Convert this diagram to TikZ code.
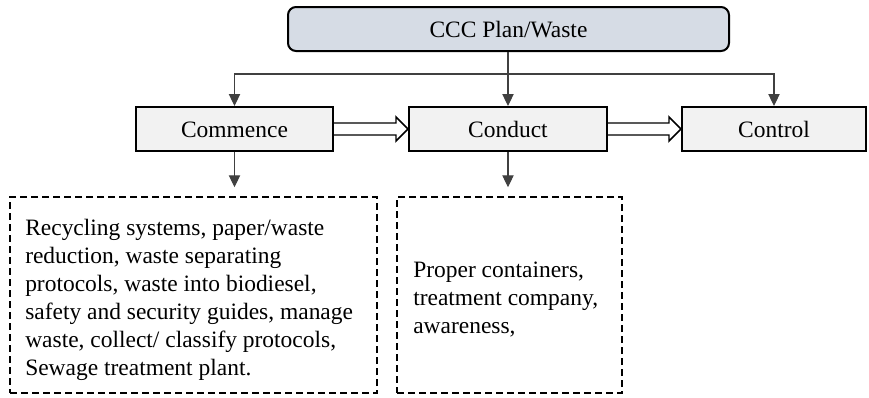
\documentclass[tikz,border=0pt]{standalone}
\usepackage{fontspec}
\setmainfont{Liberation Serif}
\usetikzlibrary{arrows.meta,calc}

\definecolor{planfill}{HTML}{D6DCE5}
\definecolor{stagefill}{HTML}{F2F2F2}
\definecolor{linkgray}{HTML}{404040}

\tikzset{
  label font/.style={font=\fontsize{17.6pt}{21pt}\selectfont},
  planbox/.style={draw=black, line width=1.5pt, fill=planfill, rounded corners=6pt,
    minimum height=33pt, inner sep=0pt, label font, text height=13pt, text depth=1pt},
  stagebox/.style={draw=black, line width=1.5pt, fill=stagefill,
    minimum height=33pt, inner sep=0pt, label font, text height=13pt, text depth=1pt},
  notebox/.style={draw=black, line width=1.1pt, dash pattern=on 5.25pt off 3pt,
    minimum height=147pt, inner sep=0pt},
  notetext/.style={label font, align=left, inner sep=0pt, anchor=west},
  link/.style={draw=linkgray, line width=0.8pt, -{Triangle[length=9pt,width=8.5pt]}},
  flow/.style={draw=black, line width=1.1pt, fill=white, line join=miter}
}

\begin{document}
\begin{tikzpicture}[x=0.75pt,y=-0.75pt]
  \useasboundingbox (0,0) rectangle (869,397);

  % plan header and the three stages
  \node[planbox, minimum width=330.75pt] (plan) at (508.5,29) {CCC Plan/Waste};
  \node[stagebox, minimum width=147.75pt] (comm) at (234.5,129) {Commence};
  \node[stagebox, minimum width=148.5pt]  (cond) at (508,129)   {Conduct};
  \node[stagebox, minimum width=138pt]    (ctrl) at (774,129)   {Control};

  % dashed note boxes
  \node[notebox, minimum width=275.25pt] (noteA) at (193.5,295) {};
  \node[notebox, minimum width=168.75pt] (noteB) at (509.5,295) {};

  \node[notetext] (textA) at (25,300) {Recycling systems, paper/waste\\
    reduction, waste separating\\
    protocols, waste into biodiesel,\\
    safety and security guides, manage\\
    waste, collect/ classify protocols,\\
    Sewage treatment plant.};
  \node[notetext] (textB) at (413,300) {Proper containers,\\
    treatment company,\\
    awareness,};

  % distribution from the plan to the stages
  \coordinate (hub) at (cond.north |- 0,74);
  \draw[link] (plan.south -| cond.north) -- (cond.north);
  \draw[link] (hub) -| (comm.north);
  \draw[link] (hub) -| (ctrl.north);

  % stages down to their notes
  \draw[link, shorten >=6.75pt] (comm.south) -- (comm.south |- noteA.north);
  \draw[link, shorten >=6.75pt] (cond.south) -- (cond.south |- noteB.north);

  % hollow block arrows between stages
  \draw[flow] ($(comm.east)+(0,-6)$) -- ($(cond.west)+(-12,-6)$)
    -- ($(cond.west)+(-12,-12)$) -- (cond.west)
    -- ($(cond.west)+(-12,12)$) -- ($(cond.west)+(-12,6)$)
    -- ($(comm.east)+(0,6)$);
  \draw[flow] ($(cond.east)+(0,-6)$) -- ($(ctrl.west)+(-12,-6)$)
    -- ($(ctrl.west)+(-12,-12)$) -- (ctrl.west)
    -- ($(ctrl.west)+(-12,12)$) -- ($(ctrl.west)+(-12,6)$)
    -- ($(cond.east)+(0,6)$);
\end{tikzpicture}
\end{document}
